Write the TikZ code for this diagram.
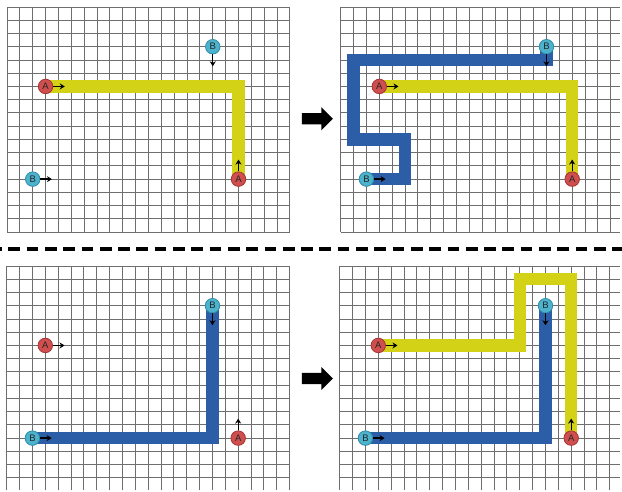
\documentclass[tikz,border=0pt]{standalone}
\usepackage{fontspec}
\setsansfont{Liberation Sans}
\usetikzlibrary{arrows.meta,shapes.arrows}
\pgfdeclarelayer{bglayer}
\pgfdeclarelayer{gridlayer}
\pgfdeclarelayer{pathlayer}
\pgfsetlayers{bglayer,gridlayer,pathlayer,main}
\definecolor{ptyellow}{HTML}{D4D217}
\definecolor{ptblue}{HTML}{2B5EA7}
\definecolor{ptred}{HTML}{CF4F4E}
\definecolor{ptredd}{HTML}{A53534}
\definecolor{ptteal}{HTML}{4DB2CC}
\definecolor{ptteald}{HTML}{2E8DA8}
\definecolor{gridgray}{HTML}{6E6E6E}
\newcommand{\pgridlines}[4]{%
  \foreach \gi in {0,...,#3} {\draw[gridline] (\gi,0) -- (\gi,#2);}
  \foreach \gj in {0,...,#4} {\draw[gridline] (0,\gj) -- (#1,\gj);}
}
\tikzset{
  gridline/.style={draw=gridgray, line width=0.9pt},
  apt/.style={circle, fill=ptred, draw=ptredd, line width=0.8pt, minimum size=14.5pt, inner sep=0pt,
    font=\sffamily\fontsize{9.5}{9.5}\selectfont, text=black!85},
  bpt/.style={circle, fill=ptteal, draw=ptteald, line width=0.8pt, minimum size=14.5pt, inner sep=0pt,
    font=\sffamily\fontsize{9.5}{9.5}\selectfont, text=black!85},
  dirarrow/.style={-{Stealth[length=5pt,width=6pt]}, line width=1.3pt, draw=black},
  ypath/.style={draw=ptyellow, line width=12.4pt, line join=miter, line cap=butt},
  bpath/.style={draw=ptblue, line width=12.4pt, line join=miter, line cap=butt},
  bigarrow/.style={single arrow, fill=black, draw=none, inner xsep=0pt, inner ysep=5.35pt,
    minimum height=31pt, single arrow head extend=6pt},
  panel/.style={x=12.86pt, y=-13.24pt}
}
\begin{document}
\begin{tikzpicture}[x=1pt, y=-1pt]
\begin{pgfonlayer}{bglayer}
\fill[white] (0,0) rectangle (622,491);
\end{pgfonlayer}
\useasboundingbox (0,0) rectangle (622,491);

% ---------- top-left panel ----------
\begin{scope}[shift={(7,7)}]
\begin{scope}[panel]
  \begin{pgfonlayer}{gridlayer}
    \pgridlines{22}{17}{22}{17}
  \end{pgfonlayer}
  \node[apt] (tlA1) at (3,6) {A};
  \node[apt] (tlA2) at (18,13) {A};
  \node[bpt] (tlB1) at (2,13) {B};
  \node[bpt] (tlB2) at (16,3) {B};
  \begin{pgfonlayer}{pathlayer}
    \draw[ypath] (tlA1.center) -| (tlA2.center);
  \end{pgfonlayer}
  \draw[dirarrow] (tlA1.east) -- ++(0.9,0);
  \draw[dirarrow] (tlA2.north) -- ++(0,-0.9);
  \draw[dirarrow] (tlB1.east) -- ++(0.9,0);
  \draw[dirarrow] (tlB2.south) -- ++(0,0.9);
\end{scope}
\end{scope}

% ---------- top-right panel ----------
\begin{scope}[shift={(340.7,7)}]
\begin{scope}[panel]
  \begin{pgfonlayer}{gridlayer}
    \pgridlines{21.72}{17}{21}{17}
  \end{pgfonlayer}
  \node[apt] (trA1) at (3,6) {A};
  \node[apt] (trA2) at (18,13) {A};
  \node[bpt] (trB1) at (2,13) {B};
  \node[bpt] (trB2) at (16,3) {B};
  \begin{pgfonlayer}{pathlayer}
    \draw[ypath] (trA1.center) -| (trA2.center);
    \draw[bpath] (trB1.center) -- (5,13) -- (5,10) -- (1,10) -- (1,4) -- (16,4) -- (trB2.center);
  \end{pgfonlayer}
  \draw[dirarrow] (trA1.east) -- ++(0.9,0);
  \draw[dirarrow] (trA2.north) -- ++(0,-0.9);
  \draw[dirarrow] (trB1.east) -- ++(0.9,0);
  \draw[dirarrow] (trB2.south) -- ++(0,0.9);
\end{scope}
\end{scope}

% ---------- bottom-left panel ----------
\begin{scope}[shift={(6.7,266)}]
\begin{scope}[panel]
  \begin{pgfonlayer}{gridlayer}
    \pgridlines{22}{16.95}{22}{16}
  \end{pgfonlayer}
  \node[apt] (blA1) at (3,6) {A};
  \node[apt] (blA2) at (18,13) {A};
  \node[bpt] (blB1) at (2,13) {B};
  \node[bpt] (blB2) at (16,3) {B};
  \begin{pgfonlayer}{pathlayer}
    \draw[bpath] (blB1.center) -| (blB2.center);
  \end{pgfonlayer}
  \draw[dirarrow] (blA1.east) -- ++(0.9,0);
  \draw[dirarrow] (blA2.north) -- ++(0,-0.9);
  \draw[dirarrow] (blB1.east) -- ++(0.9,0);
  \draw[dirarrow] (blB2.south) -- ++(0,0.9);
\end{scope}
\end{scope}

% ---------- bottom-right panel ----------
\begin{scope}[shift={(339.7,266)}]
\begin{scope}[panel]
  \begin{pgfonlayer}{gridlayer}
    \pgridlines{21.8}{16.95}{21}{16}
  \end{pgfonlayer}
  \node[apt] (brA1) at (3,6) {A};
  \node[apt] (brA2) at (18,13) {A};
  \node[bpt] (brB1) at (2,13) {B};
  \node[bpt] (brB2) at (16,3) {B};
  \begin{pgfonlayer}{pathlayer}
    \draw[bpath] (brB1.center) -| (brB2.center);
    \draw[ypath] (brA1.center) -- (14,6) -- (14,1) -- (18,1) -- (brA2.center);
  \end{pgfonlayer}
  \draw[dirarrow] (brA1.east) -- ++(0.9,0);
  \draw[dirarrow] (brA2.north) -- ++(0,-0.9);
  \draw[dirarrow] (brB1.east) -- ++(0.9,0);
  \draw[dirarrow] (brB2.south) -- ++(0,0.9);
\end{scope}
\end{scope}

% ---------- block arrows ----------
\node[bigarrow] (arrTop) at (314.6,118.7) {};
\node[bigarrow] (arrBot) at (314.6,378.5) {};

% ---------- dashed separator ----------
\coordinate (sepL) at (-10,249);
\coordinate (sepR) at (630,249);
\begin{scope}
\clip (0,0) rectangle (622,491);
\draw[line width=4.5pt, dash pattern=on 11.7pt off 6.6pt, black] (sepL) -- (sepR);
\end{scope}
\end{tikzpicture}
\end{document}
